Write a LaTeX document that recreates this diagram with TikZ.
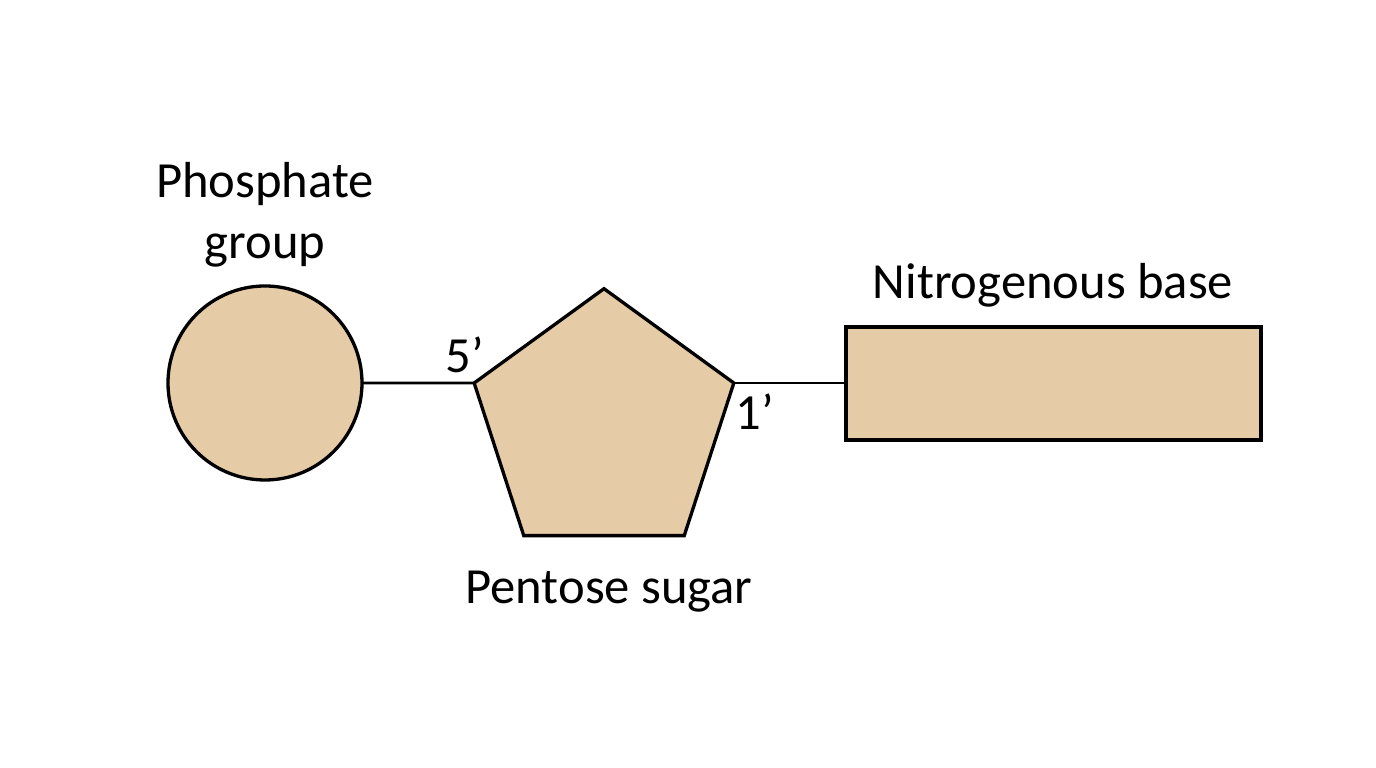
\documentclass[tikz,border=0pt]{standalone}
\usepackage{fontspec}
\setmainfont{Carlito}
\usetikzlibrary{shapes.geometric,positioning}
\definecolor{tan}{HTML}{E5CBA6}

\begin{document}
\begin{tikzpicture}[
     part/.style = {draw, fill=tan, line width=0.033cm, inner sep=0mm, outer sep=0mm},
     label/.style = {font=\fontsize{14.4}{17.2}\selectfont, inner sep=1pt},
     bond/.style = {draw, line width=0.028cm}
    ]
    \useasboundingbox (0,0) rectangle (13.76,7.68);

    \node [part, circle, minimum size=1.94cm] (phos) at (2.65,3.85) {};
    \node [part, regular polygon, regular polygon sides=5, minimum size=2.73cm] (sugar) at (6.04,3.428) {};
    \node [part, rectangle, minimum width=4.15cm, minimum height=1.13cm] (base) at (10.535,3.845) {};

    \node [label, align=center] (phoslbl) at (2.65,5.53) {Phosphate\\group};
    \node [label] (sugarlbl) at (6.09,1.76) {Pentose sugar};
    \node [label] (baselbl) at (10.53,4.83) {Nitrogenous base};
    \node [label] (five) at (4.65,4.13) {5’};
    \node [label] (one) at (7.55,3.56) {1’};

    \draw[bond] (phos.east) -- (sugar.corner 2);
    \draw[bond] (sugar.corner 5) -- (sugar.corner 5 -| base.west);

\end{tikzpicture}
\end{document}
